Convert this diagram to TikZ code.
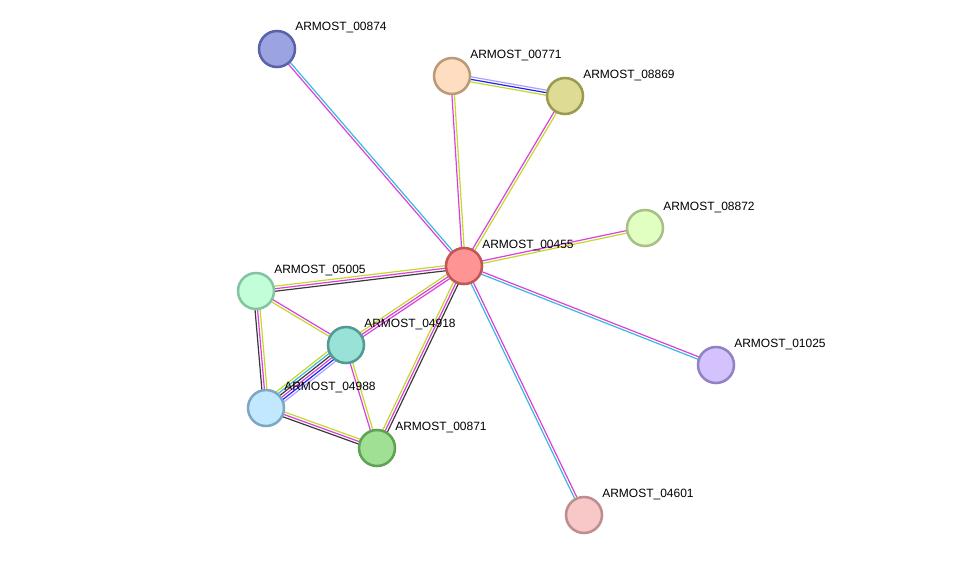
\documentclass[tikz,border=0pt]{standalone}
\usepackage{fontspec}
\setmainfont{Liberation Sans}
\usepackage{xcolor}
\usetikzlibrary{calc,backgrounds}
\definecolor{tmline}{HTML}{C4D82C}
\definecolor{exline}{HTML}{DA40DA}
\definecolor{dbline}{HTML}{3CB8DE}
\definecolor{coline}{HTML}{3A3A3A}
\definecolor{ccline}{HTML}{2222F0}
\definecolor{hmline}{HTML}{A8A2FF}
\definecolor{fA}{HTML}{9BA4E0}\definecolor{dA}{HTML}{5A62A8}
\definecolor{fB}{HTML}{FFDDC0}\definecolor{dB}{HTML}{BB9A7A}
\definecolor{fC}{HTML}{DEDC94}\definecolor{dC}{HTML}{9C9A52}
\definecolor{fD}{HTML}{E2FFC2}\definecolor{dD}{HTML}{A6C088}
\definecolor{fE}{HTML}{FF9494}\definecolor{dE}{HTML}{C25656}
\definecolor{fF}{HTML}{C2FFD8}\definecolor{dF}{HTML}{84C4A2}
\definecolor{fG}{HTML}{98E2D8}\definecolor{dG}{HTML}{529A92}
\definecolor{fH}{HTML}{D4C2FF}\definecolor{dH}{HTML}{9282C4}
\definecolor{fI}{HTML}{C2E8FF}\definecolor{dI}{HTML}{7EA8C2}
\definecolor{fJ}{HTML}{A0E094}\definecolor{dJ}{HTML}{5EA254}
\definecolor{fK}{HTML}{F8C8C8}\definecolor{dK}{HTML}{BE8E8E}

\begin{document}
\begin{tikzpicture}[x=0.75pt,y=-0.75pt, every node/.style={font=\fontsize{9}{10}\selectfont}, prot/.style={circle,line width=1.9pt,minimum size=27pt,inner sep=0pt}, lbl/.style={anchor=west,inner sep=0pt}, tm/.style={draw=tmline,line width=0.9pt}, ex/.style={draw=exline,line width=0.9pt}, db/.style={draw=dbline,line width=0.9pt}, co/.style={draw=coline,line width=0.9pt}, cc/.style={draw=ccline,line width=0.9pt}, hm/.style={draw=hmline,line width=0.9pt}]
\useasboundingbox (0,0) rectangle (976,561);
\node[prot,draw=dA,fill=fA] (n00874) at (277,49) {};
\node[prot,draw=dB,fill=fB] (n00771) at (452,76) {};
\node[prot,draw=dC,fill=fC] (n08869) at (565,96) {};
\node[prot,draw=dD,fill=fD] (n08872) at (645,228) {};
\node[prot,draw=dE,fill=fE] (n00455) at (464,266) {};
\node[prot,draw=dF,fill=fF] (n05005) at (256,291) {};
\node[prot,draw=dG,fill=fG] (n04918) at (346,345) {};
\node[prot,draw=dH,fill=fH] (n01025) at (716,365) {};
\node[prot,draw=dI,fill=fI] (n04988) at (266,408) {};
\node[prot,draw=dJ,fill=fJ] (n00871) at (377,448) {};
\node[prot,draw=dK,fill=fK] (n04601) at (584,515) {};
\foreach \n in {00874,00771,08869,08872,00455,05005,04918,01025,04988,00871,04601}{\node[lbl] (t\n) at ($(n\n)+(18,-21)$) {ARMOST\_\n};}
\begin{scope}[on background layer]
\foreach \a/\b/\k/\cols in {00455/00874/2/{db,ex},00455/00771/2/{tm,ex},00455/08869/2/{tm,ex},00771/08869/3/{tm,cc,hm},00455/08872/2/{tm,ex},00455/01025/2/{db,ex},00455/04601/2/{db,ex},00455/05005/3/{tm,ex,co},00455/04918/3/{tm,ex,ex},00455/00871/3/{tm,ex,co},05005/04918/2/{tm,ex},05005/04988/3/{co,ex,tm},04918/04988/6/{tm,db,co,ex,cc,hm},04918/00871/2/{ex,tm},04988/00871/3/{co,ex,tm}}{
  \foreach \c [count=\i] in \cols {
    \pgfmathsetmacro\o{(\i-(\k+1)/2)*1.9}
    \draw[\c] ($(n\a)!\o pt!90:(n\b)$) -- ($(n\b)!\o pt!-90:(n\a)$);
  }
}
\end{scope}
\end{tikzpicture}
\end{document}
